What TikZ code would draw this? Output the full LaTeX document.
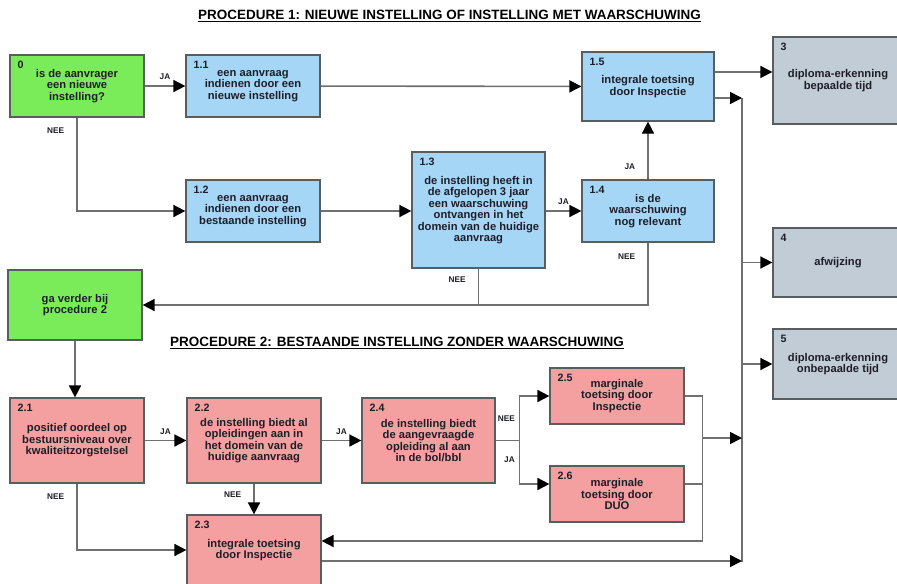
\documentclass[tikz,border=0pt]{standalone}
\usepackage{fontspec}
\setmainfont{Liberation Sans}
\usetikzlibrary{positioning,arrows.meta}

\definecolor{boxgreen}{RGB}{122,236,90}
\definecolor{boxblue}{RGB}{166,214,246}
\definecolor{boxred}{RGB}{244,160,160}
\definecolor{boxgray}{RGB}{194,204,214}
\definecolor{edgegray}{RGB}{88,94,96}
\definecolor{linegray}{RGB}{112,112,112}
\definecolor{inktext}{RGB}{30,30,40}

\begin{document}
\begin{tikzpicture}[x=0.75pt, y=-0.75pt,
    box/.style={draw=edgegray, line width=0.9pt, align=center, inner sep=2pt,
        font=\fontsize{8.4}{8.6}\selectfont\bfseries, text=inktext},
    wh/.style n args={2}{minimum width=#1*0.75pt, minimum height=#2*0.75pt},
    groen/.style={box, fill=boxgreen},
    blauw/.style={box, fill=boxblue},
    rood/.style={box, fill=boxred},
    grijs/.style={box, fill=boxgray},
    num/.style={anchor=north west, inner sep=0pt, xshift=6pt, yshift=-5pt,
        font=\fontsize{8}{9}\selectfont\bfseries, text=inktext},
    lijn/.style={draw=linegray, line width=1.2pt},
    pijl/.style={lijn, -{Triangle[length=9pt, width=9pt, color=black]}},
    antw/.style={font=\fontsize{6.2}{7}\selectfont\bfseries, text=inktext, inner sep=1pt},
    kop/.style={font=\fontsize{10.1}{12}\selectfont\bfseries}
]

            % Page size and white background
            \useasboundingbox (0,0) rectangle (897,583);
            \fill[white] (0,0) rectangle (897,583);

            % Titles of both procedures
            \node[kop] (kop1) at (449.5,16) {\underline{PROCEDURE 1: NIEUWE INSTELLING OF INSTELLING MET WAARSCHUWING}};
            \node[kop] (kop2) at (397,343) {\underline{PROCEDURE 2: BESTAANDE INSTELLING ZONDER WAARSCHUWING}};

            % Procedure 1: boxes
            \node[groen, wh={134}{62}, label={[num]north west:0}] (b0) at (77,86) {is de aanvrager\\een nieuwe\\instelling?};
            \node[blauw, wh={134}{62}, label={[num]north west:1.1}] (b11) at (253,86) {een aanvraag\\indienen door een\\nieuwe instelling};
            \node[blauw, wh={134}{62}, label={[num]north west:1.2}] (b12) at (253,211) {een aanvraag\\indienen door een\\bestaande instelling};
            \node[blauw, wh={133}{116}, label={[num]north west:1.3}] (b13) at (478.5,210) {de instelling heeft in\\de afgelopen 3 jaar\\een waarschuwing\\ontvangen in het\\domein van de huidige\\aanvraag};
            \node[blauw, wh={132}{62}, label={[num]north west:1.4}] (b14) at (648,211) {is de\\waarschuwing\\nog relevant};
            \node[blauw, wh={132}{69}, label={[num]north west:1.5}] (b15) at (648,86.5) {integrale toetsing\\door Inspectie};

            % Outcomes
            \node[grijs, wh={130}{87}, label={[num]north west:3}] (b3) at (838,80.5) {diploma-erkenning\\bepaalde tijd};
            \node[grijs, wh={130}{69}, label={[num]north west:4}] (b4) at (838,262.5) {afwijzing};
            \node[grijs, wh={130}{70}, label={[num]north west:5}] (b5) at (838,364) {diploma-erkenning\\onbepaalde tijd};

            % Switch to procedure 2
            \node[groen, wh={134}{70}] (bga) at (75,305) {ga verder bij\\procedure 2};

            % Procedure 2: boxes
            \node[rood, wh={134}{85}, label={[num]north west:2.1}] (b21) at (77,440.5) {positief oordeel op\\bestuursniveau over\\kwaliteitzorgstelsel};
            \node[rood, wh={134}{85}, label={[num]north west:2.2}] (b22) at (254,440.5) {de instelling biedt al\\opleidingen aan in\\het domein van de\\huidige aanvraag};
            \node[rood, wh={133}{85}, label={[num]north west:2.4}] (b24) at (428.5,440.5) {de instelling biedt\\de aangevraagde\\opleiding al aan\\in de bol/bbl};
            \node[rood, wh={134}{56}, label={[num]north west:2.5}] (b25) at (617,396) {marginale\\toetsing door\\Inspectie};
            \node[rood, wh={134}{56}, label={[num]north west:2.6}] (b26) at (617,494) {marginale\\toetsing door\\DUO};
            \node[rood, wh={134}{70}, label={[num]north west:2.3}] (b23) at (254,550) {integrale toetsing\\door Inspectie};

            % Procedure 1: connectors
            \draw[pijl] (b0) -- node[antw, above=3pt] {JA} (b11);
            \draw[pijl] (b11) -- (b15);
            \draw[pijl] (b0.south) |- node[antw, pos=0.07, left=8pt] {NEE} (b12.west);
            \draw[pijl] (b12.east) -- (b12.east -| b13.west);
            \draw[pijl] (b14.west -| b13.east) -- node[antw, above=3pt] {JA} (b14.west);
            \draw[pijl] (b14.north) -- node[antw, pos=0.22, left=8pt] {JA} (b15.south);
            \draw[pijl] (b14.south) |- node[antw, pos=0.11, left=8pt] {NEE} (bga.east);
            \draw[lijn] (b13.south) -- node[antw, pos=0.3, left=8pt] {NEE} (b13.south |- bga.east);

            % Collecting line to the outcomes
            \coordinate (busT) at (742,98);
            \coordinate (busB) at (742,562);
            \draw[lijn] (busT) -- (busB);
            \draw[pijl] ([yshift=10.9pt]b15.east) -- ([yshift=10.9pt]b15.east -| b3.west);
            \draw[pijl] ([yshift=-8.6pt]b15.east) -- (busT);
            \draw[pijl] (busT |- b4.west) -- (b4.west);
            \draw[pijl] (busT |- b5.west) -- (b5.west);

            % Procedure 2: connectors
            \draw[pijl] (bga.south) -- (bga.south |- b21.north);
            \draw[pijl] (b21) -- node[antw, above=3pt] {JA} (b22);
            \draw[pijl] (b22) -- node[antw, above=3pt] {JA} (b24);
            \draw[pijl] (b22.south) -- node[antw, pos=0.35, left=8pt] {NEE} (b23.north);
            \draw[pijl] (b21.south) |- node[antw, pos=0.1, left=8pt] {NEE} (b23.west);

            % Split after 2.4
            \draw[lijn] (b24.east) -- ++(24,0) coordinate (splits);
            \draw[pijl] (splits) |- node[antw, pos=0.25, left=2pt] {NEE} (b25.west);
            \draw[pijl] (splits) |- node[antw, pos=0.22, left=2pt] {JA} ([yshift=7.5pt]b26.west);

            % Merge after 2.5 and 2.6
            \draw[lijn] (b25.east) -- ++(18,0) coordinate (mergeT);
            \draw[lijn] ([yshift=7.5pt]b26.east) -- ([yshift=7.5pt]b26.east -| mergeT);
            \draw[pijl] (mergeT) |- ([yshift=6.75pt]b23.east);
            \coordinate (mergeM) at (702,438);
            \draw[pijl] (mergeM) -- (mergeM -| busT);
            \draw[pijl] ([yshift=-8.25pt]b23.east) -- ([yshift=-8.25pt]b23.east -| busB);
        \end{tikzpicture}
\end{document}
